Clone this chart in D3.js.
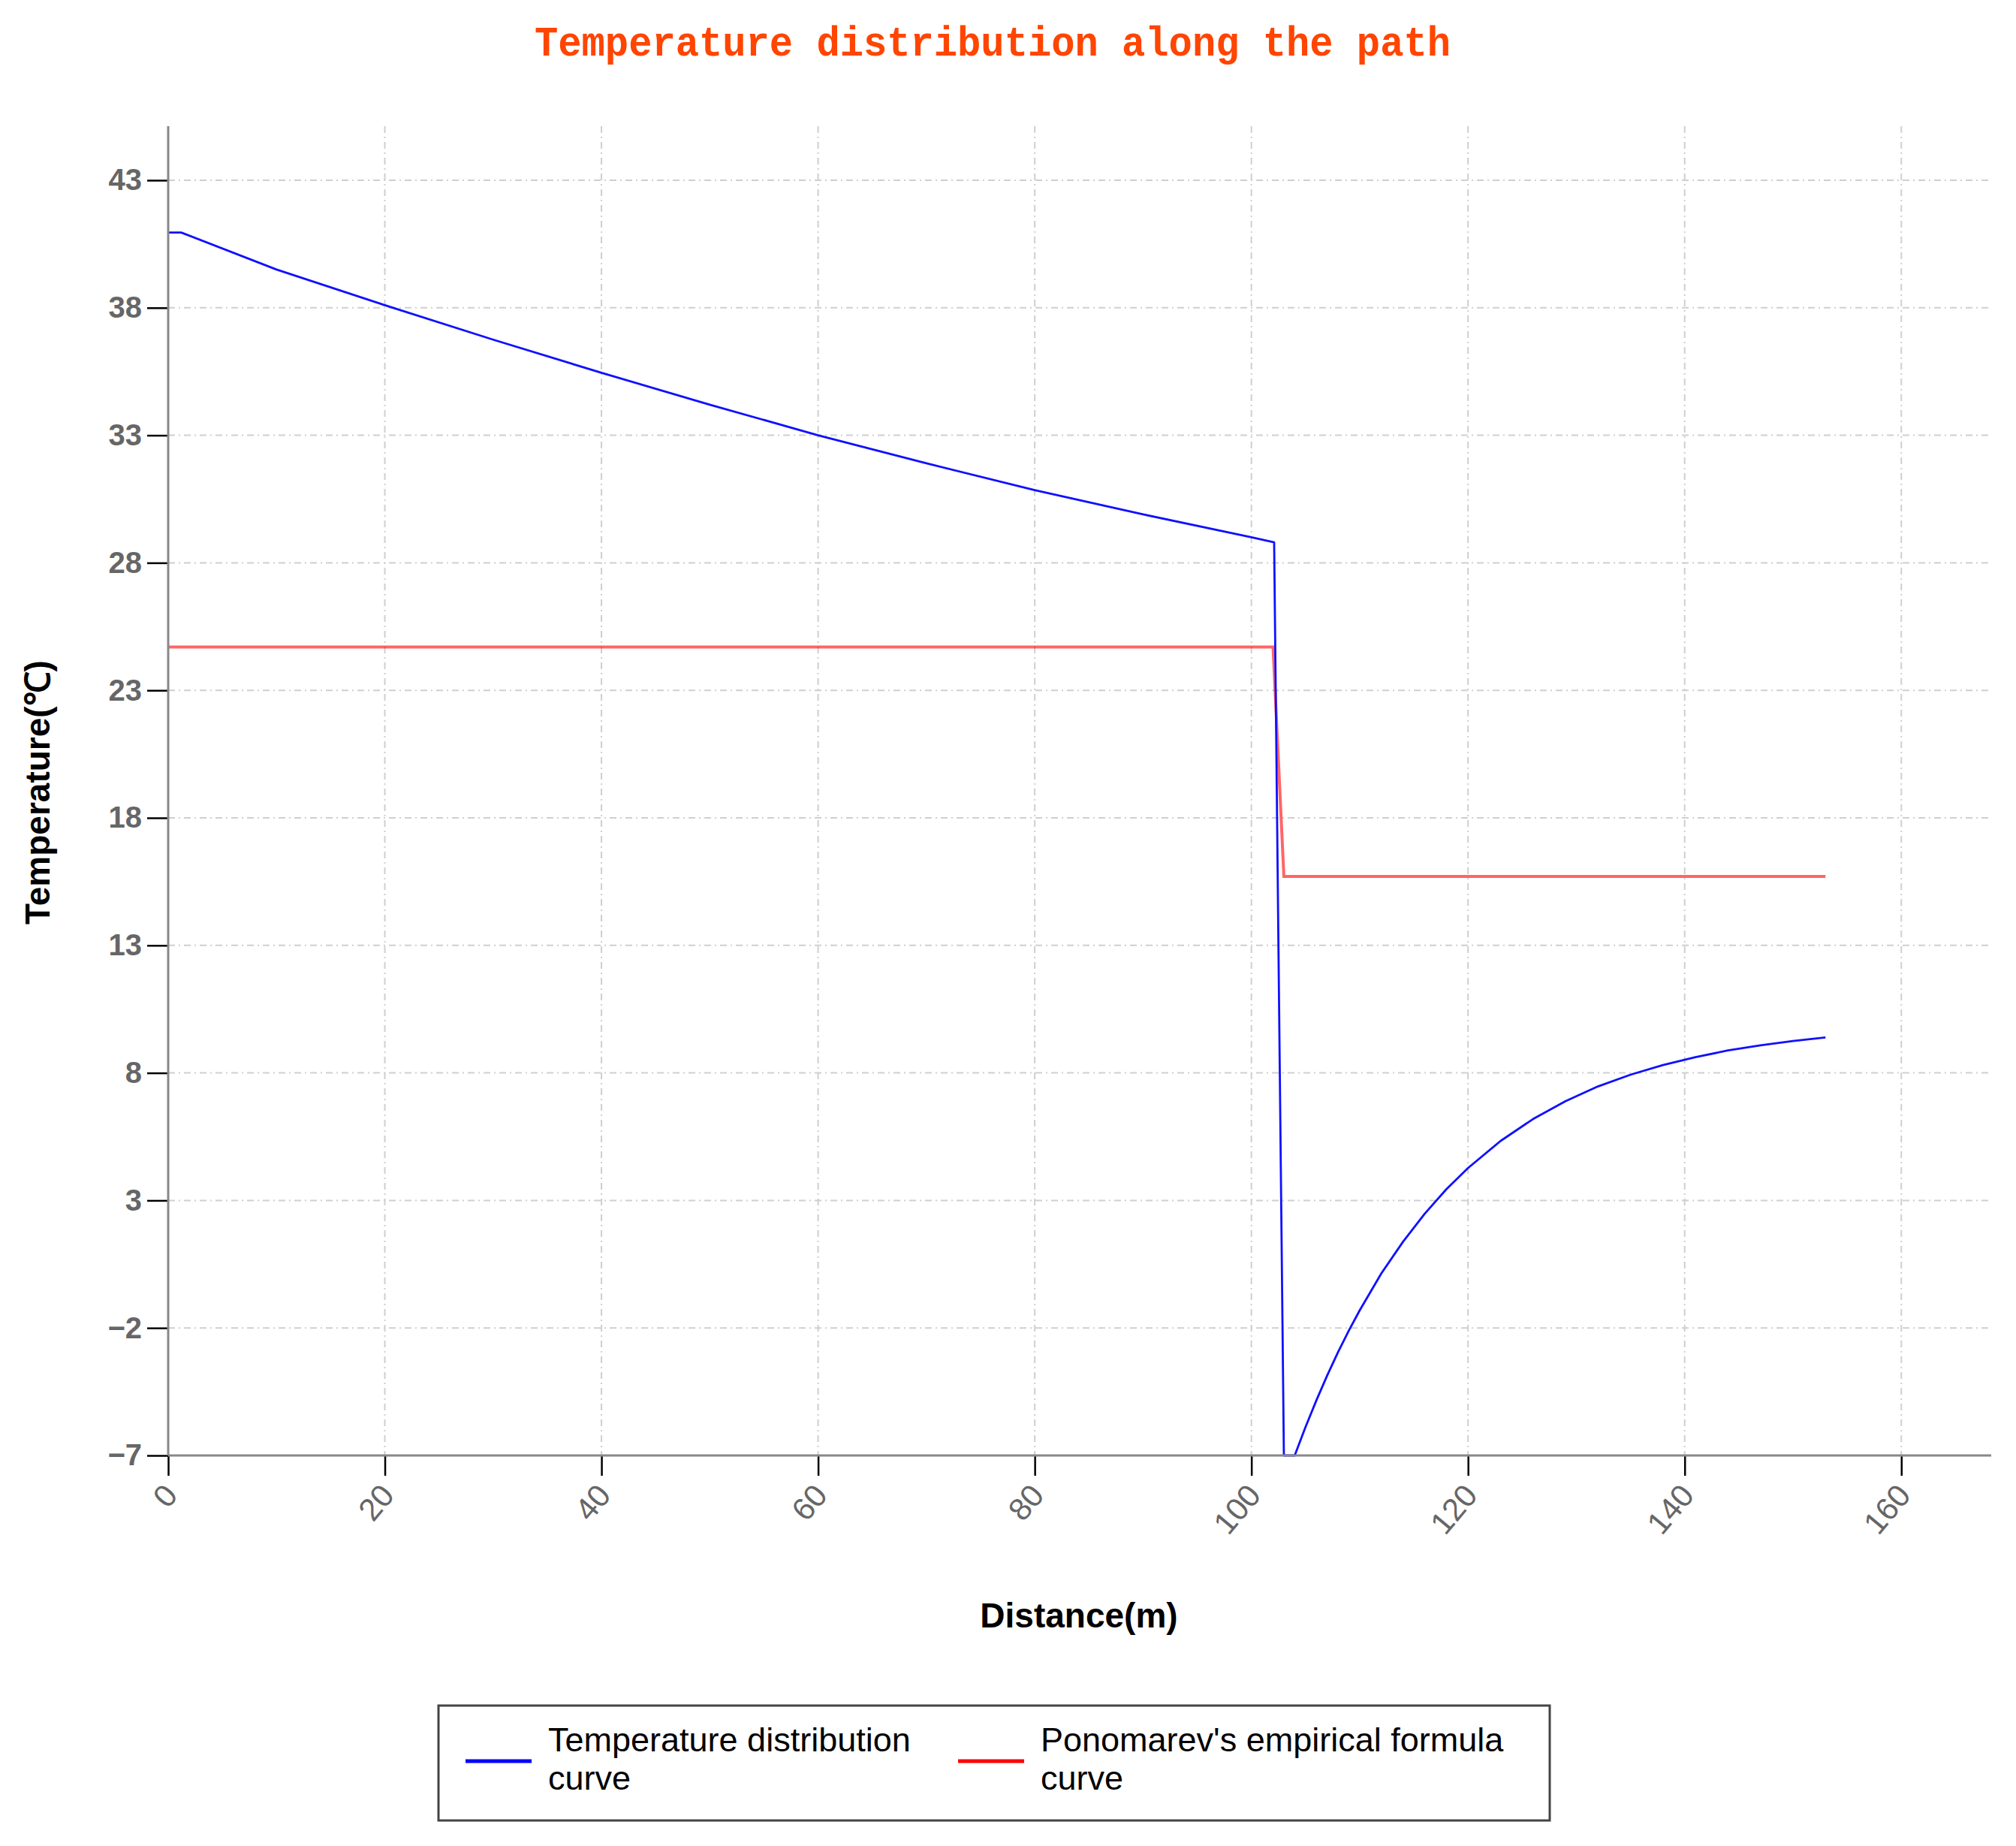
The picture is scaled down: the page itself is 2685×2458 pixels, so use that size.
<!DOCTYPE html>
<html>
<head>
<meta charset="utf-8">
<script src="https://cdn.jsdelivr.net/npm/d3@7"></script>
<style>
  html, body { margin: 0; padding: 0; background: #fff; }
  svg { display: block; }
</style>
</head>
<body>
<svg id="chart" width="2685" height="2458"></svg>
<script>
// ---------- data ----------
const titleText = "Temperature distribution along the path";
const xLabel = "Distance(m)";
const yLabel = "Temperature(℃)";
const seriesNames = ["Temperature distribution curve", "Ponomarev's empirical formula curve"];

const blueX = [0, 1.2, 10, 20, 30, 40, 50, 60, 70, 80, 90, 100, 102.1, 103.0, 104.0,
               105, 106, 107, 108, 109, 110, 112, 114, 116, 118, 120, 123, 126, 129,
               132, 135, 138, 141, 144, 147, 150, 153];
const blueY = [40.95, 40.95, 39.5, 38.1, 36.75, 35.45, 34.2, 33.0, 31.9, 30.85, 29.9, 29.0, 28.8, -7.0, -7.0,
               -5.88, -4.84, -3.86, -2.95, -2.10, -1.31, 0.14, 1.38, 2.48, 3.44, 4.27, 5.33, 6.19, 6.89,
               7.47, 7.93, 8.31, 8.62, 8.88, 9.08, 9.25, 9.39];

const redX = [0, 102.0, 103.0, 153];
const redY = [24.7, 24.7, 15.7, 15.7];

const xTicks = [0, 20, 40, 60, 80, 100, 120, 140, 160];
const yTicks = [-7, -2, 3, 8, 13, 18, 23, 28, 33, 38, 43];
const xDomain = [0, 168.3];
const yDomain = [-7, 45.12];

// ---------- layout ----------
(function () {
const svg = d3.select("#chart");
const pL = 224, pR = 2652, pT = 168, pB = 1938;

const x = d3.scaleLinear().domain(xDomain).range([pL, pR]);
const y = d3.scaleLinear().domain(yDomain).range([pB, pT]);

// title
svg.append("text")
  .attr("x", 1322).attr("y", 74)
  .attr("text-anchor", "middle")
  .attr("font-family", "'Liberation Mono', 'DejaVu Sans Mono', monospace")
  .attr("font-weight", "bold")
  .attr("font-size", 56)
  .attr("textLength", 1220)
  .attr("lengthAdjust", "spacingAndGlyphs")
  .attr("fill", "#ff4500")
  .text(titleText);

// grid
const grid = svg.append("g");
grid.selectAll("line.h").data(yTicks).enter().append("line")
  .attr("class", "h")
  .attr("x1", pL).attr("x2", pR)
  .attr("y1", d => y(d)).attr("y2", d => y(d))
  .attr("stroke", "#cfcfcf").attr("stroke-width", 2)
  .attr("stroke-dasharray", "9,5,2,5");
grid.selectAll("line.v").data(xTicks).enter().append("line")
  .attr("class", "v")
  .attr("x1", d => x(d)).attr("x2", d => x(d))
  .attr("y1", pT).attr("y2", pB)
  .attr("stroke", "#cfcfcf").attr("stroke-width", 2)
  .attr("stroke-dasharray", "9,5,2,5");

// lines
const line = d3.line().x(d => x(d[0])).y(d => y(d[1]));
const redData = redX.map((v, i) => [v, redY[i]]);
const blueData = blueX.map((v, i) => [v, blueY[i]]);

svg.append("path").datum(redData)
  .attr("d", line).attr("fill", "none")
  .attr("stroke", "#ff0000").attr("stroke-opacity", 0.6)
  .attr("stroke-width", 4);
svg.append("path").datum(blueData)
  .attr("d", line).attr("fill", "none")
  .attr("stroke", "#1010ff").attr("stroke-width", 2.8)
  .attr("stroke-linejoin", "round");

// axes
const yAxis = svg.append("g")
  .attr("transform", `translate(${pL},0)`)
  .call(d3.axisLeft(y).tickValues(yTicks).tickSize(28).tickPadding(7).tickFormat(d3.format("d")));
yAxis.select(".domain").remove();
yAxis.selectAll(".tick line").attr("stroke", "#000").attr("stroke-width", 2.5);
yAxis.selectAll(".tick text")
  .attr("font-family", "'Liberation Sans', Arial, sans-serif")
  .attr("font-weight", "bold")
  .attr("font-size", 40)
  .attr("fill", "#666");

const xAxis = svg.append("g")
  .attr("transform", `translate(0,${pB})`)
  .call(d3.axisBottom(x).tickValues(xTicks).tickSize(27).tickFormat(d3.format("d")));
xAxis.select(".domain").remove();
xAxis.selectAll(".tick line").attr("stroke", "#000").attr("stroke-width", 2.5);
xAxis.selectAll(".tick text")
  .attr("font-family", "'Liberation Sans', Arial, sans-serif")
  .attr("font-size", 42)
  .attr("fill", "#666")
  .attr("text-anchor", "end")
  .attr("dy", null)
  .attr("y", 0)
  .attr("transform", "translate(14,54) rotate(-50)");

// axis lines
svg.append("line").attr("x1", pL).attr("x2", pL).attr("y1", pT).attr("y2", pB)
  .attr("stroke", "#888").attr("stroke-width", 3);
svg.append("line").attr("x1", pL).attr("x2", pR).attr("y1", pB).attr("y2", pB)
  .attr("stroke", "#888").attr("stroke-width", 3);

// axis titles
svg.append("text")
  .attr("x", 1437).attr("y", 2167)
  .attr("text-anchor", "middle")
  .attr("font-family", "'Liberation Sans', Arial, sans-serif")
  .attr("font-weight", "bold")
  .attr("font-size", 46)
  .attr("fill", "#000")
  .text(xLabel);

svg.append("text")
  .attr("transform", "translate(66,1055) rotate(-90)")
  .attr("text-anchor", "middle")
  .attr("font-family", "'Liberation Sans', Arial, sans-serif")
  .attr("font-weight", "bold")
  .attr("font-size", 46)
  .attr("fill", "#000")
  .text(yLabel);

// legend
const legend = svg.append("g");
legend.append("rect")
  .attr("x", 584).attr("y", 2271).attr("width", 1480).attr("height", 153)
  .attr("fill", "#fff").attr("stroke", "#444").attr("stroke-width", 3);

const legendItems = [
  { color: "#0000ff", lx: 620, tx: 730, lines: ["Temperature distribution", "curve"] },
  { color: "#ff0000", lx: 1276, tx: 1386, lines: ["Ponomarev's empirical formula", "curve"] }
];
legendItems.forEach((it) => {
  legend.append("line")
    .attr("x1", it.lx).attr("x2", it.lx + 88)
    .attr("y1", 2345).attr("y2", 2345)
    .attr("stroke", it.color).attr("stroke-width", 5);
  const t = legend.append("text")
    .attr("font-family", "'Liberation Sans', Arial, sans-serif")
    .attr("font-size", 45)
    .attr("fill", "#000");
  it.lines.forEach((s, j) => {
    t.append("tspan").attr("x", it.tx).attr("y", 2332 + j * 51).text(s);
  });
});
})();
</script>
</body>
</html>
